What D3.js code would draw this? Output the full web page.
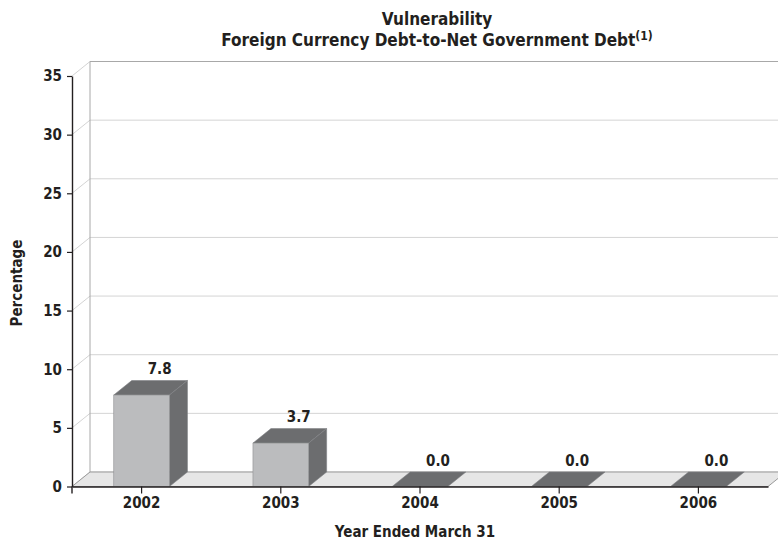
<!DOCTYPE html>
<html>
<head>
<meta charset="utf-8">
<script src="https://cdn.jsdelivr.net/npm/d3@7"></script>
<style>
  html, body { margin: 0; padding: 0; background: #fff; }
  svg { display: block; }
  text { font-family: "DejaVu Sans Condensed", "DejaVu Sans", sans-serif; fill: #231f20; }
</style>
</head>
<body>
<svg id="chart" width="778" height="542"></svg>
<script>
// Foreign currency debt as a share of net government debt, by fiscal year
const categories = ["2002", "2003", "2004", "2005", "2006"];
const values = [7.8, 3.7, 0.0, 0.0, 0.0];
const yTicks = [0, 5, 10, 15, 20, 25, 30, 35];

const svg = d3.select("#chart");
const W = 778, H = 542;
const plotLeft = 72, plotRight = 768, plotBottom = 486.5, plotTop = 76;
const DX = 18, DY = -14.5;   // depth offset of the 3D box

const y = d3.scaleLinear().domain([0, 35]).range([plotBottom, plotTop]);
const x = d3.scaleBand().domain(categories).range([plotLeft, plotRight]);
const bw = x.bandwidth() * 0.4;
const cx = c => x(c) + x.bandwidth() / 2;
const pts = arr => arr.map(p => p.join(",")).join(" ");

const g = svg.append("g");

// back wall gridlines plus the diagonal running into the wall
yTicks.forEach(t => {
  const yy = y(t);
  g.append("line")
    .attr("x1", plotLeft + DX).attr("x2", W + 20)
    .attr("y1", yy + DY).attr("y2", yy + DY)
    .attr("stroke", t === 35 ? "#a8a8a8" : "#d4d4d4").attr("stroke-width", 1);
  g.append("line")
    .attr("x1", plotLeft).attr("y1", yy)
    .attr("x2", plotLeft + DX).attr("y2", yy + DY)
    .attr("stroke", "#c8c8c8").attr("stroke-width", 0.8);
});
// left edge of back wall
g.append("line")
  .attr("x1", plotLeft + DX).attr("x2", plotLeft + DX)
  .attr("y1", y(35) + DY).attr("y2", y(0) + DY)
  .attr("stroke", "#a8a8a8").attr("stroke-width", 1);

// floor
g.append("polygon")
  .attr("points", pts([[plotLeft, plotBottom], [plotRight, plotBottom], [plotRight + DX, plotBottom + DY], [plotLeft + DX, plotBottom + DY]]))
  .attr("fill", "#e6e6e6").attr("stroke", "#9a9a9a").attr("stroke-width", 1);

// bars
const front = "#bbbcbe", side = "#6c6d6f", edge = "#808184";
categories.forEach((c, i) => {
  const v = values[i];
  const x0 = cx(c) - bw / 2, x1 = cx(c) + bw / 2;
  const yt = y(v);
  const bar = g.append("g");
  // top face
  bar.append("polygon")
    .attr("points", pts([[x0, yt], [x1, yt], [x1 + DX, yt + DY], [x0 + DX, yt + DY]]))
    .attr("fill", side).attr("stroke", edge).attr("stroke-width", 0.6);
  if (v > 0) {
    // side face
    bar.append("polygon")
      .attr("points", pts([[x1, yt], [x1 + DX, yt + DY], [x1 + DX, plotBottom + DY], [x1, plotBottom]]))
      .attr("fill", side).attr("stroke", edge).attr("stroke-width", 0.6);
    // front face
    bar.append("rect")
      .attr("x", x0).attr("y", yt).attr("width", bw).attr("height", plotBottom - yt)
      .attr("fill", front).attr("stroke", "#8e8f91").attr("stroke-width", 0.6);
  }
  // value label
  svg.append("text")
    .attr("x", cx(c) + DX).attr("y", yt + DY - 6.5)
    .attr("text-anchor", "middle")
    .attr("font-size", 15).attr("font-weight", "bold")
    .text(d3.format(".1f")(v));
});

// y axis
const yAxis = svg.append("g").attr("transform", `translate(${plotLeft},0)`)
  .call(d3.axisLeft(y).tickValues(yTicks).tickSize(5).tickPadding(5).tickSizeOuter(0));
yAxis.select(".domain").attr("stroke", "#231f20").attr("stroke-width", 1.4);
yAxis.selectAll(".tick line").attr("stroke", "#231f20").attr("stroke-width", 1.2);
yAxis.selectAll(".tick text").attr("font-size", 15).attr("font-weight", "bold")
  .attr("font-family", "DejaVu Sans Condensed").attr("fill", "#231f20");

// x axis
const xAxis = svg.append("g").attr("transform", `translate(0,${plotBottom})`)
  .call(d3.axisBottom(x).tickSize(7).tickPadding(4).tickSizeOuter(0));
xAxis.select(".domain").attr("stroke", "#231f20").attr("stroke-width", 1.4);
xAxis.selectAll(".tick line").attr("stroke", "#231f20").attr("stroke-width", 1.2);
xAxis.selectAll(".tick text").attr("font-size", 15).attr("font-weight", "bold")
  .attr("font-family", "DejaVu Sans Condensed").attr("fill", "#231f20");
xAxis.append("line").attr("x1", plotLeft).attr("x2", plotLeft).attr("y1", 0).attr("y2", 7)
  .attr("stroke", "#231f20").attr("stroke-width", 1.4);

// titles
svg.append("text").attr("x", 437).attr("y", 25).attr("text-anchor", "middle")
  .attr("font-size", 17).attr("font-weight", "bold").text("Vulnerability");
const t2 = svg.append("text").attr("x", 437).attr("y", 46).attr("text-anchor", "middle")
  .attr("font-size", 17).attr("font-weight", "bold");
t2.append("tspan").text("Foreign Currency Debt-to-Net Government Debt");
t2.append("tspan").attr("dy", -6).attr("font-size", 12).text("(1)");

svg.append("text").attr("x", 415).attr("y", 537).attr("text-anchor", "middle")
  .attr("font-size", 15).attr("font-weight", "bold").text("Year Ended March 31");

svg.append("text")
  .attr("transform", "translate(22,283) rotate(-90)")
  .attr("text-anchor", "middle")
  .attr("font-size", 15).attr("font-weight", "bold").text("Percentage");
</script>
</body>
</html>
